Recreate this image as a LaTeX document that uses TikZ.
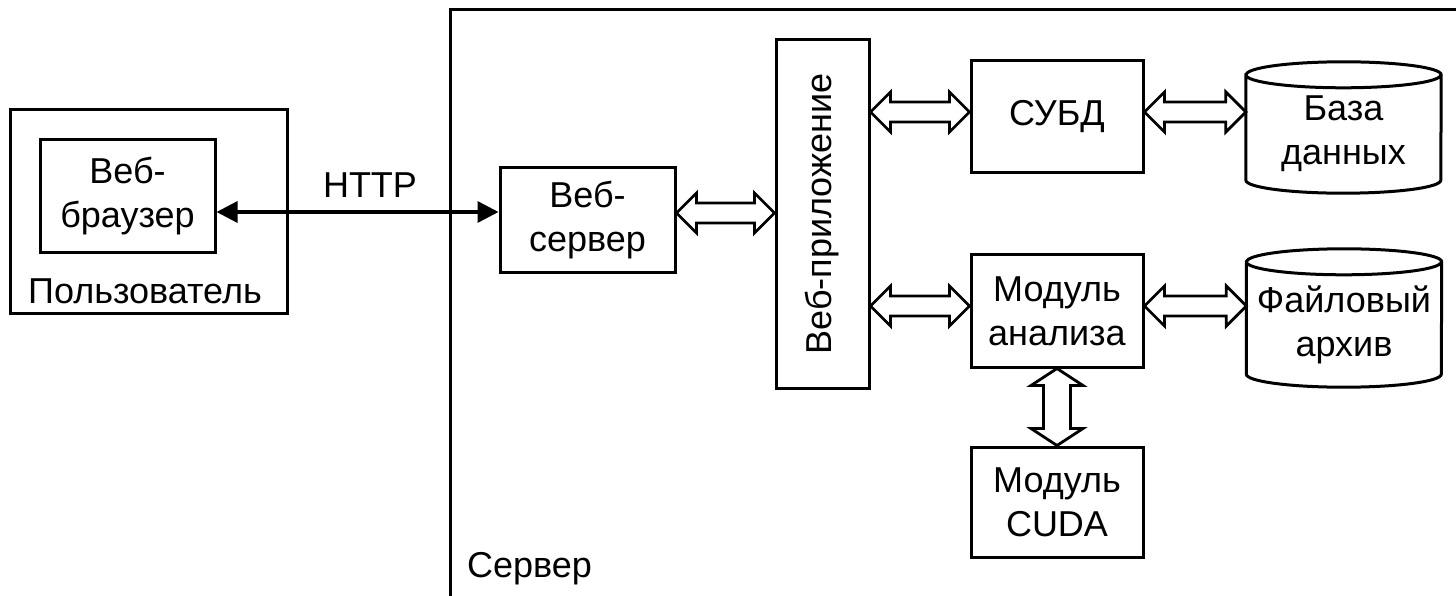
\documentclass[tikz,border=0pt]{standalone}
\usepackage{fontspec}
\setmainfont{Liberation Sans}
\usetikzlibrary{arrows.meta,calc}
\newcommand{\harr}[2]{%
  \path[hollow] let \p1=(#1), \p2=(#2) in
   (\x1,\y2) -- (\x1+20pt,\y2+20pt) -- (\x1+20pt,\y2+10pt) -- (\x2-20pt,\y2+10pt) -- (\x2-20pt,\y2+20pt) -- (\x2,\y2)
   -- (\x2-20pt,\y2-20pt) -- (\x2-20pt,\y2-10pt) -- (\x1+20pt,\y2-10pt) -- (\x1+20pt,\y2-20pt) -- cycle;}
\newcommand{\varr}[2]{%
  \path[hollow] let \p1=(#1), \p2=(#2) in
   (\x1,\y1) -- (\x1+26pt,\y1-17pt) -- (\x1+13.5pt,\y1-17pt) -- (\x1+13.5pt,\y2+17pt) -- (\x1+26pt,\y2+17pt) -- (\x1,\y2)
   -- (\x1-26pt,\y2+17pt) -- (\x1-13.5pt,\y2+17pt) -- (\x1-13.5pt,\y1-17pt) -- (\x1-26pt,\y1-17pt) -- cycle;}
\newcommand{\cyl}[3]{% node, x radius, y radius
  \draw[line width=3pt] (#1.north west) -- ([yshift=#3]#1.south west)
    arc[start angle=180,end angle=360,x radius=#2,y radius=#3] -- (#1.north east)
    arc[start angle=0,end angle=180,x radius=#2,y radius=#3] -- cycle
    (#1.north west) arc[start angle=180,end angle=360,x radius=#2,y radius=#3];}
\begin{document}
\begin{tikzpicture}[x=1pt,y=1pt,
  lbl/.style={font=\fontsize{36}{44}\selectfont, align=center, inner sep=0pt},
  blk/.style={draw, line width=3pt, lbl},
  cylbody/.style={lbl, minimum width=195pt},
  hollow/.style={draw, line width=2.8pt, line join=miter, fill=white},
  httparrow/.style={line width=3.3pt, {Triangle[length=21pt,width=21pt]}-{Triangle[length=21pt,width=21pt]}}]
\useasboundingbox (0,0) rectangle (1456,595);
\begin{scope}
\clip (0,0) rectangle (1456,595);
\draw[line width=3pt] (450,-20) -- (450,585) -- (1480,585);
\end{scope}
\node[lbl, anchor=base west] (srvlbl) at (467,18) {Сервер};
% user side
\node[blk, minimum width=277pt, minimum height=204pt] (user) at (148.5,383) {};
\node[blk, minimum width=175pt, minimum height=113pt] (browser) at (127.5,398.5) {Веб-\\браузер};
\node[lbl, anchor=base] (userlbl) at (145,291) {Пользователь};
% server blocks
\node[blk, minimum width=175pt, minimum height=105pt] (websrv) at (587.5,374.5) {Веб-\\сервер};
\node[blk, minimum width=93pt, minimum height=348pt] (app) at (822.5,381) {};
\node[lbl, rotate=90] (applbl) at (app.center) {Веб-приложение};
\node[blk, minimum width=172pt, minimum height=112pt] (subd) at (1057,478) {СУБД};
\node[blk, minimum width=172pt, minimum height=112pt] (anal) at (1057,284) {Модуль\\анализа};
\node[blk, minimum width=172pt, minimum height=110pt] (cuda) at (1057,93) {Модуль\\CUDA};
% cylinders
\node[cylbody, minimum height=118pt] (db) at (1343.5,461) {База\\данных};
\cyl{db}{97.5pt}{13pt}
\node[cylbody, minimum height=125pt] (arch) at (1344,270.5) {Файловый\\архив};
\cyl{arch}{97.5pt}{13pt}
% HTTP
\coordinate (hy) at ($(websrv.west)+(0,8.5)$);
\draw[httparrow] (browser.east |- hy) -- (websrv.west |- hy);
\node[lbl, anchor=base] (httplbl) at (370,397) {HTTP};
% hollow arrows
\harr{websrv.east}{$(app.west |- websrv.east)+(0,7.5)$}
\harr{app.east}{$(subd.west)+(0,5)$}
\harr{subd.east}{$(db.west |- subd.west)+(0,5)$}
\harr{app.east}{$(anal.west)+(0,5)$}
\harr{anal.east}{$(arch.west |- anal.west)+(0,5)$}
\varr{anal.south}{cuda.north}
\end{tikzpicture}
\end{document}
